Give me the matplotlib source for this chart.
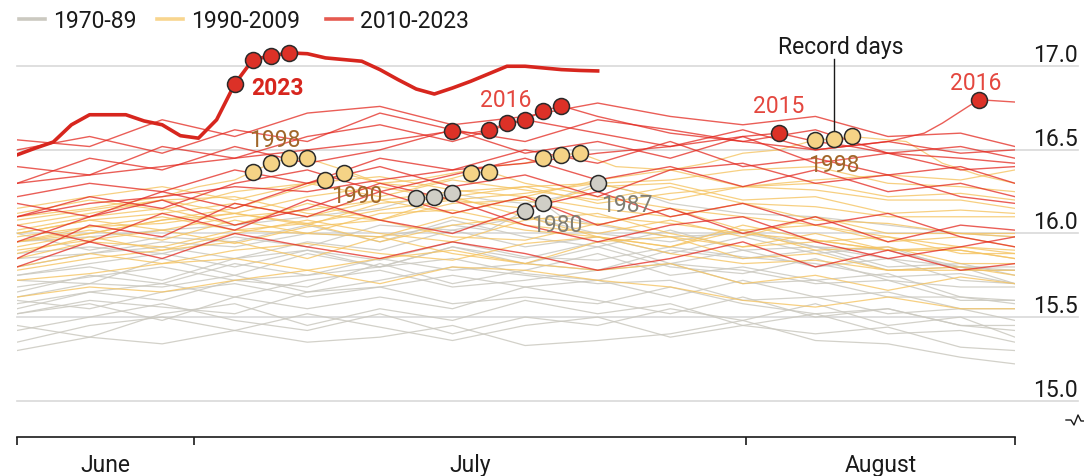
#!/usr/bin/env python3
"""Daily global surface air temperature, June 21st to August 15th, 1970-2023."""

import matplotlib

matplotlib.use("Agg")
import matplotlib.pyplot as plt
from matplotlib.lines import Line2D

W, H = 1084, 477

# day index 0 = June 21st, 55 = August 15th
coarse_days = [0, 4, 8, 12, 16, 20, 24, 28, 32, 36, 40, 44, 48, 52, 55]

# 1970-89 (without the highlighted 1980 and 1987)
grey_lines = [
    [15.30, 15.38, 15.34, 15.42, 15.35, 15.38, 15.45, 15.33, 15.36, 15.40, 15.48, 15.36, 15.34, 15.26, 15.22],
    [15.35, 15.45, 15.50, 15.42, 15.52, 15.44, 15.36, 15.45, 15.50, 15.38, 15.45, 15.40, 15.44, 15.32, 15.30],
    [15.55, 15.65, 15.60, 15.72, 15.68, 15.82, 15.70, 15.78, 15.88, 15.75, 15.80, 15.72, 15.76, 15.62, 15.60],
    [15.72, 15.70, 15.85, 15.75, 15.88, 15.80, 15.92, 15.85, 15.95, 15.82, 15.90, 15.80, 15.85, 15.72, 15.70],
    [15.45, 15.38, 15.52, 15.58, 15.45, 15.55, 15.48, 15.60, 15.52, 15.58, 15.45, 15.52, 15.40, 15.42, 15.35],
    [15.52, 15.58, 15.48, 15.62, 15.55, 15.62, 15.55, 15.68, 15.60, 15.52, 15.62, 15.50, 15.55, 15.45, 15.42],
    [15.42, 15.50, 15.58, 15.48, 15.42, 15.52, 15.40, 15.50, 15.45, 15.55, 15.48, 15.58, 15.45, 15.50, 15.38],
    [15.65, 15.75, 15.70, 15.82, 15.75, 15.85, 15.78, 15.82, 15.92, 15.80, 15.76, 15.85, 15.72, 15.68, 15.68],
    [15.60, 15.55, 15.65, 15.70, 15.62, 15.68, 15.75, 15.68, 15.72, 15.62, 15.72, 15.62, 15.65, 15.55, 15.55],
    [15.75, 15.80, 15.72, 15.85, 15.90, 15.80, 15.92, 15.82, 15.78, 15.90, 15.85, 15.90, 15.78, 15.80, 15.70],
    [15.80, 15.88, 15.92, 15.85, 15.95, 15.90, 16.02, 15.92, 15.98, 15.88, 15.98, 15.88, 15.92, 15.78, 15.78],
    [15.58, 15.65, 15.70, 15.62, 15.72, 15.78, 15.68, 15.72, 15.78, 15.82, 15.70, 15.72, 15.62, 15.62, 15.58],
    [16.00, 15.90, 15.98, 15.95, 16.05, 15.95, 16.08, 15.98, 15.92, 16.02, 15.90, 15.92, 15.80, 15.82, 15.75],
    [15.62, 15.70, 15.68, 15.75, 15.65, 15.72, 15.80, 15.75, 15.70, 15.72, 15.60, 15.62, 15.52, 15.55, 15.48],
    [15.52, 15.60, 15.56, 15.52, 15.65, 15.68, 15.58, 15.62, 15.58, 15.68, 15.58, 15.52, 15.55, 15.45, 15.45],
    [15.68, 15.74, 15.80, 15.72, 15.75, 15.80, 15.85, 15.76, 15.72, 15.82, 15.78, 15.70, 15.72, 15.60, 15.60],
    [15.88, 15.92, 15.88, 15.98, 15.92, 16.05, 16.02, 16.10, 16.00, 15.95, 16.02, 15.92, 15.90, 15.80, 15.80],
    [15.75, 15.82, 15.88, 15.80, 15.90, 15.84, 15.95, 15.86, 15.84, 15.92, 15.86, 15.82, 15.74, 15.76, 15.70],
]

# 1990-2009 (without the highlighted 1990 and 1998)
yellow_lines = [
    [15.85, 15.95, 15.92, 16.02, 16.06, 15.95, 16.05, 16.10, 15.98, 15.92, 16.02, 15.90, 15.92, 15.82, 15.82],
    [15.62, 15.68, 15.65, 15.72, 15.78, 15.70, 15.80, 15.78, 15.72, 15.68, 15.60, 15.56, 15.62, 15.55, 15.55],
    [15.72, 15.76, 15.82, 15.85, 15.78, 15.85, 15.90, 15.82, 15.78, 15.82, 15.70, 15.75, 15.66, 15.74, 15.70],
    [15.88, 15.98, 15.90, 16.00, 16.08, 16.00, 15.95, 16.08, 16.12, 16.00, 15.92, 16.00, 15.90, 15.90, 15.85],
    [16.02, 16.10, 16.15, 16.05, 16.18, 16.08, 16.22, 16.10, 16.05, 16.15, 16.02, 16.05, 15.95, 15.98, 15.92],
    [15.78, 15.85, 15.90, 15.95, 15.85, 15.98, 15.88, 15.82, 15.95, 15.98, 15.85, 15.88, 15.78, 15.80, 15.75],
    [15.92, 16.00, 16.08, 16.12, 16.05, 16.18, 16.22, 16.28, 16.30, 16.20, 16.28, 16.32, 16.35, 16.32, 16.38],
    [15.95, 16.02, 15.96, 16.08, 16.00, 15.98, 16.10, 16.02, 15.98, 15.92, 16.05, 15.96, 15.90, 15.92, 15.88],
    [15.90, 15.96, 16.02, 15.94, 16.04, 16.08, 15.98, 15.96, 16.06, 15.98, 15.92, 15.95, 15.98, 15.88, 15.88],
    [16.00, 16.08, 16.12, 16.18, 16.10, 16.20, 16.12, 16.22, 16.15, 16.10, 16.18, 16.08, 16.06, 16.00, 15.98],
    [16.12, 16.20, 16.14, 16.25, 16.30, 16.22, 16.32, 16.26, 16.20, 16.28, 16.18, 16.16, 16.10, 16.10, 16.10],
    [16.05, 16.12, 16.20, 16.12, 16.22, 16.28, 16.20, 16.15, 16.28, 16.30, 16.20, 16.22, 16.12, 16.14, 16.12],
    [15.95, 16.04, 16.10, 16.02, 16.00, 16.12, 16.14, 16.05, 16.00, 16.08, 15.98, 16.10, 16.00, 16.00, 16.00],
    [16.15, 16.22, 16.28, 16.20, 16.30, 16.34, 16.26, 16.22, 16.32, 16.38, 16.28, 16.26, 16.20, 16.20, 16.15],
    [16.00, 16.08, 16.02, 16.10, 16.14, 16.20, 16.25, 16.28, 16.18, 16.24, 16.28, 16.30, 16.22, 16.24, 16.20],
    [16.08, 16.14, 16.20, 16.22, 16.12, 16.08, 16.18, 16.20, 16.10, 16.06, 16.00, 15.96, 15.90, 15.90, 15.85],
    [15.80, 15.88, 15.82, 15.90, 15.94, 15.88, 15.84, 15.94, 15.98, 15.88, 15.82, 15.84, 15.78, 15.78, 15.78],
    [15.98, 16.04, 16.06, 16.12, 16.06, 16.14, 16.20, 16.24, 16.30, 16.32, 16.38, 16.40, 16.30, 16.28, 16.25],
]

# 2010-2022 (without the highlighted 2015 and 2016)
red_lines = [
    [15.95, 16.10, 16.20, 16.05, 16.15, 16.30, 16.20, 16.05, 15.95, 16.05, 16.10, 15.95, 15.85, 15.92, 15.98],
    [15.80, 15.95, 15.85, 16.00, 15.92, 15.85, 15.95, 15.88, 15.78, 15.85, 15.95, 15.80, 15.90, 15.78, 15.82],
    [15.85, 16.05, 15.98, 16.18, 16.10, 16.25, 16.12, 16.22, 16.05, 16.15, 16.00, 16.10, 15.95, 16.05, 16.02],
    [16.05, 15.95, 16.12, 16.02, 16.20, 16.08, 16.00, 16.15, 16.25, 16.10, 16.18, 16.05, 16.12, 15.98, 15.92],
    [16.18, 16.10, 16.25, 16.15, 16.30, 16.40, 16.28, 16.35, 16.22, 16.38, 16.42, 16.30, 16.35, 16.22, 16.18],
    [16.30, 16.45, 16.38, 16.52, 16.42, 16.50, 16.62, 16.48, 16.55, 16.45, 16.58, 16.42, 16.48, 16.38, 16.40],
    [16.10, 16.22, 16.15, 16.30, 16.38, 16.25, 16.35, 16.45, 16.32, 16.40, 16.28, 16.38, 16.25, 16.30, 16.22],
    [16.40, 16.35, 16.52, 16.45, 16.58, 16.65, 16.55, 16.68, 16.60, 16.52, 16.62, 16.50, 16.55, 16.48, 16.50],
    [16.50, 16.58, 16.48, 16.62, 16.55, 16.72, 16.62, 16.55, 16.68, 16.62, 16.55, 16.62, 16.48, 16.52, 16.45],
    [16.22, 16.30, 16.25, 16.38, 16.30, 16.45, 16.38, 16.50, 16.42, 16.55, 16.40, 16.45, 16.35, 16.40, 16.30],
    [16.56, 16.52, 16.68, 16.58, 16.72, 16.76, 16.65, 16.70, 16.78, 16.70, 16.65, 16.70, 16.58, 16.60, 16.52],
]

# highlighted years, each with its own day list
days_1980 = [0, 4, 8, 12, 16, 20, 24, 26, 28, 29, 30, 32, 36, 40, 44, 48, 52, 55]
temp_1980 = [15.85, 15.88, 15.95, 15.92, 16.00, 15.98, 16.05, 16.02, 16.135, 16.18, 16.10, 16.05, 15.98,
             16.00, 15.92, 15.85, 15.80, 15.78]
days_1987 = [0, 4, 8, 12, 16, 20, 22, 23, 24, 26, 28, 30, 32, 34, 36, 40, 44, 48, 52, 55]
temp_1987 = [15.95, 15.98, 16.02, 16.05, 16.10, 16.15, 16.21, 16.22, 16.24, 16.20, 16.18, 16.22, 16.30,
             16.25, 16.18, 16.12, 16.10, 16.05, 16.00, 15.98]
days_1990 = [0, 4, 8, 12, 15, 17, 18, 20, 22, 24, 25, 26, 28, 32, 36, 40, 44, 48, 52, 55]
temp_1990 = [15.95, 16.00, 16.08, 16.15, 16.25, 16.32, 16.36, 16.30, 16.28, 16.33, 16.36, 16.37, 16.30,
             16.22, 16.15, 16.10, 16.05, 15.98, 15.92, 15.90]
days_1998 = [0, 4, 8, 10, 12, 13, 14, 15, 16, 18, 20, 22, 24, 26, 28, 29, 30, 31, 33, 36, 38, 40, 42,
             44, 45, 46, 48, 49, 51, 53, 55]
temp_1998 = [16.10, 16.15, 16.22, 16.28, 16.32, 16.37, 16.42, 16.45, 16.45, 16.38, 16.30, 16.32, 16.36,
             16.40, 16.42, 16.45, 16.47, 16.48, 16.40, 16.38, 16.42, 16.48, 16.50, 16.56, 16.565, 16.58,
             16.56, 16.55, 16.42, 16.35, 16.30]
days_2015 = [0, 4, 8, 12, 16, 20, 24, 28, 32, 36, 38, 40, 42, 44, 46, 48, 52, 55]
temp_2015 = [16.10, 16.18, 16.22, 16.28, 16.25, 16.32, 16.38, 16.42, 16.48, 16.52, 16.55, 16.58, 16.60,
             16.55, 16.52, 16.48, 16.45, 16.42]
days_2016 = [0, 4, 8, 12, 16, 20, 22, 24, 25, 26, 27, 28, 29, 30, 32, 34, 36, 40, 44, 48, 50, 51, 53, 55]
temp_2016 = [16.30, 16.35, 16.40, 16.45, 16.50, 16.55, 16.58, 16.613, 16.60, 16.619, 16.661, 16.679,
             16.733, 16.763, 16.70, 16.65, 16.60, 16.55, 16.50, 16.55, 16.60, 16.66, 16.80, 16.786]
days_2023 = list(range(33))
temp_2023 = [16.47, 16.51, 16.547, 16.65, 16.71, 16.71, 16.71, 16.673, 16.65, 16.585, 16.57, 16.68,
             16.894, 17.04, 17.062, 17.08, 17.075, 17.05, 17.04, 17.03, 16.98, 16.92, 16.864, 16.834,
             16.87, 16.91, 16.955, 17.0, 17.0, 16.99, 16.98, 16.975, 16.972]

# record days (day indices) per highlighted year
record_1980 = [28, 29]
record_1987 = [22, 23, 24, 32]
record_1990 = [17, 18, 25, 26]
record_1998 = [13, 14, 15, 16, 29, 30, 31, 44, 45, 46]
record_2015 = [42]
record_2016 = [24, 26, 27, 28, 29, 30, 53]
record_2023 = [12, 13, 14, 15]

y_ticks = [15.0, 15.5, 16.0, 16.5, 17.0]
month_edges = [0, 9.75, 40.18, 55]
month_names = ["June", "July", "August"]

GREY = "#cbc9c0"
YELLOW = "#f5c462"
RED = "#e3281f"
RED_2023 = "#d7261e"
LABEL_RED = "#e4473f"
LABEL_BROWN = "#a0672a"
LABEL_GREY = "#807e73"
MARK_FILL = {"grey": "#d0cec6", "yellow": "#f5d386", "red": "#dc3127"}

plt.rcParams["font.family"] = ["Roboto", "DejaVu Sans"]
FS = 16.5

fig = plt.figure(figsize=(W / 100, H / 100), dpi=100)
ax = fig.add_axes([17 / W, 1 - 438 / H, 998 / W, 398 / H])
ax.set_xlim(0, 55)
ax.set_ylim(14.783, 17.163)
for s in ["top", "left", "right"]:
    ax.spines[s].set_visible(False)
ax.spines["bottom"].set_color("#1a1a1a")
ax.spines["bottom"].set_linewidth(1.2)
ax.set_xticks(month_edges)
ax.set_xticklabels([])
ax.tick_params(axis="x", direction="out", length=6, width=1.2, color="#1a1a1a")
ax.set_yticks([])

ytr = ax.get_yaxis_transform()
grid_end = (1078 - 17) / 998
for v in y_ticks:
    ax.plot([0, grid_end], [v, v], transform=ytr, color="#d9d9d9", lw=1.2, clip_on=False, zorder=0)
    ax.text(grid_end, v + 5 / 167.2, f"{v:.1f}", transform=ytr, ha="right", va="baseline",
            fontsize=FS, color="#1a1a1a")

xtr = ax.get_xaxis_transform()
for i, name in enumerate(month_names):
    mid = (month_edges[i] + month_edges[i + 1]) / 2
    ax.text(mid, -28 / 398, name, transform=xtr, ha="center", va="center", fontsize=FS, color="#1a1a1a")

# background lines
for vals in grey_lines:
    ax.plot(coarse_days, vals, color=GREY, lw=0.9, alpha=0.85, zorder=1)
for d, t in [(days_1980, temp_1980), (days_1987, temp_1987)]:
    ax.plot(d, t, color=GREY, lw=0.9, alpha=0.85, zorder=1)
for vals in yellow_lines:
    ax.plot(coarse_days, vals, color=YELLOW, lw=0.9, alpha=0.8, zorder=2)
for d, t in [(days_1990, temp_1990), (days_1998, temp_1998)]:
    ax.plot(d, t, color=YELLOW, lw=0.9, alpha=0.8, zorder=2)
for vals in red_lines:
    ax.plot(coarse_days, vals, color=RED, lw=1.0, alpha=0.75, zorder=3)
for d, t in [(days_2015, temp_2015), (days_2016, temp_2016)]:
    ax.plot(d, t, color=RED, lw=1.0, alpha=0.75, zorder=3)
ax.plot(days_2023, temp_2023, color=RED_2023, lw=2.6, zorder=4, solid_joinstyle="round")

# leader line for "Record days"
lead_val = temp_1998[days_1998.index(45)]
ax.plot([45, 45], [17.044, lead_val], color="#1a1a1a", lw=1.0, zorder=5)


def draw_records(days, temps, rec, kind):
    ys = [temps[days.index(d)] for d in rec]
    ax.plot(rec, ys, ls="none", marker="o", ms=11.5, mfc=MARK_FILL[kind], mec="#2a2a2a", mew=1.1, zorder=6)


draw_records(days_1980, temp_1980, record_1980, "grey")
draw_records(days_1987, temp_1987, record_1987, "grey")
draw_records(days_1990, temp_1990, record_1990, "yellow")
draw_records(days_1998, temp_1998, record_1998, "yellow")
draw_records(days_2015, temp_2015, record_2015, "red")
draw_records(days_2016, temp_2016, record_2016, "red")
draw_records(days_2023, temp_2023, record_2023, "red")

labels = [
    ("2023", 14.33, 16.834, RED_2023, "bold"),
    ("1998", 14.22, 16.523, LABEL_BROWN, "normal"),
    ("1990", 18.74, 16.188, LABEL_BROWN, "normal"),
    ("2016", 26.95, 16.762, LABEL_RED, "normal"),
    ("1980", 29.76, 16.015, LABEL_GREY, "normal"),
    ("1987", 33.62, 16.135, LABEL_GREY, "normal"),
    ("2015", 42.0, 16.726, LABEL_RED, "normal"),
    ("1998", 45.03, 16.374, LABEL_BROWN, "normal"),
    ("2016", 52.85, 16.864, LABEL_RED, "normal"),
]
for txt, x, y, c, w in labels:
    ax.text(x, y, txt, ha="center", va="baseline", fontsize=FS, color=c, fontweight=w, zorder=7)
ax.text(45.4, 17.08, "Record days", ha="center", va="baseline", fontsize=FS, color="#1a1a1a", zorder=7)


def fxy(px, py):
    return px / W, 1 - py / H


# legend
legend = [("1970-89", GREY, 19, 45), ("1990-2009", "#f8d58e", 157, 183), ("2010-2023", "#e55a50", 326, 352)]
for name, col, x0, x1 in legend:
    (a, b), (c, _) = fxy(x0, 20), fxy(x1, 20)
    fig.add_artist(Line2D([a, c], [b, b], color=col, lw=2.6, transform=fig.transFigure))
    tx, ty = fxy(x1 + 8, 28)
    fig.text(tx, ty, name, ha="left", va="baseline", fontsize=FS, color="#1a1a1a")

# axis break symbol
brk = [(1066, 421), (1071, 421), (1074, 426), (1078, 416), (1081, 422), (1084, 422)]
bx = [fxy(x, y)[0] for x, y in brk]
by = [fxy(x, y)[1] for x, y in brk]
fig.add_artist(Line2D(bx, by, color="#1a1a1a", lw=1.0, transform=fig.transFigure))

fig.savefig("out.png", dpi=100)
